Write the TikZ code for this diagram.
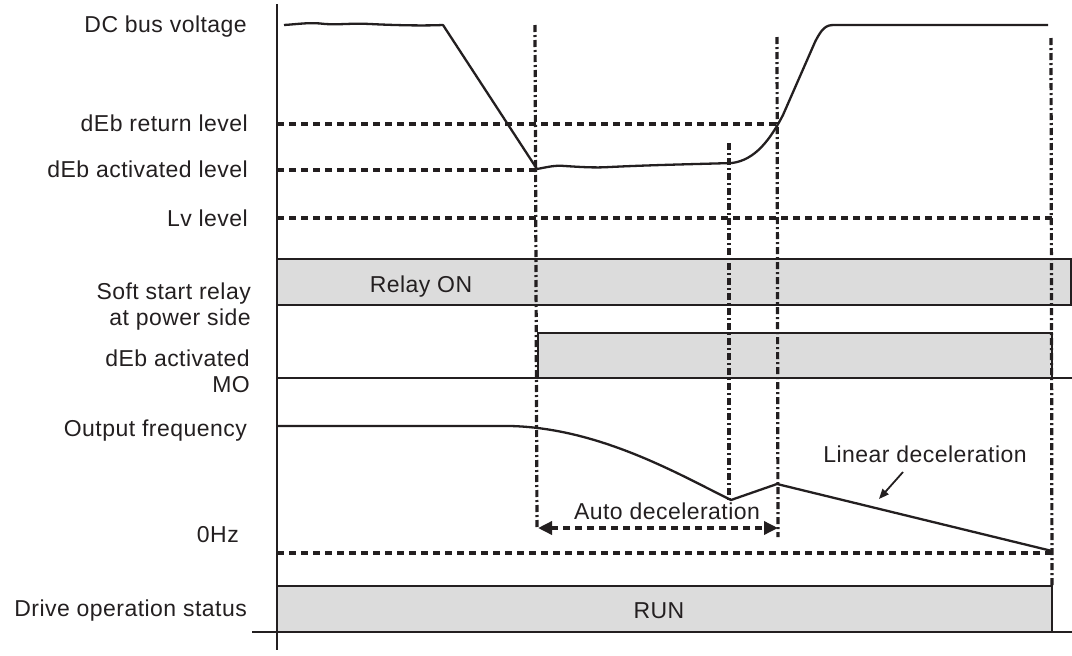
\documentclass[tikz,border=0pt]{standalone}
\usepackage{fontspec}
\setmainfont{Liberation Sans}[LetterSpace=2]
\usepackage{tikz}
\usetikzlibrary{positioning,arrows.meta,calc}
\definecolor{InkBlack}{HTML}{231F20}
\definecolor{BarGray}{HTML}{DCDCDC}

\begin{document}
\begin{tikzpicture}[
  x=1pt,y=-1pt,
  every node/.style={font=\fontsize{23}{25.5}\selectfont,text=InkBlack,inner sep=0pt},
  lbl/.style={anchor=base east,align=right},
  txt/.style={anchor=base},
  sig/.style={draw=InkBlack,line width=2.3pt,line join=round},
  axisline/.style={draw=InkBlack,line width=2.4pt},
  lvl/.style={draw=InkBlack,line width=3.4pt,dash pattern=on 7pt off 5pt},
  tline/.style={draw=InkBlack,line width=3.2pt,dash pattern=on 7pt off 3pt on 2pt off 3pt},
  bar/.style={draw=InkBlack,fill=BarGray,line width=2.4pt},
  span/.style={lvl,{Triangle[length=14pt,width=13pt]}-{Triangle[length=14pt,width=13pt]}},
  ptr/.style={draw=InkBlack,line width=1.8pt,-{Triangle[length=10pt,width=8pt]}}
]
  \useasboundingbox (0,0) rectangle (1072,656);

  \node[lbl] (dcbus) at (247,32) {DC bus voltage};
  \node[lbl] (retlvl) at (248,131) {dEb return level};
  \node[lbl] (actlvl) at (248,177) {dEb activated level};
  \node[lbl] (lvlvl) at (248,226) {Lv level};
  \node[lbl] (relay) at (251,325) {Soft start relay\\at power side};
  \node[lbl] (debmo) at (250,392) {dEb activated\\MO};
  \node[lbl] (outfreq) at (247,436) {Output frequency};
  \node[lbl] (zerohz) at (239,542) {0Hz};
  \node[lbl] (drvstat) at (247,616) {Drive operation status};

  \draw[bar] (277,259) rectangle (1071,305);
  \draw[bar] (538,333) rectangle (1052,378);
  \draw[bar] (277,586) rectangle (1052,632);
  \draw[axisline] (277,378) -- (1072,378);
  \draw[axisline] (252,632) -- (1072,632);
  \draw[axisline] (277,4) -- (277,650);

  \node[txt] (relayon) at (421,292) {Relay ON};
  \node[txt] (run) at (659,618) {RUN};

  \draw[lvl] (277,124) -- (777,124);
  \draw[lvl] (277,170) -- (537,170);
  \draw[lvl] (277,218) -- (1053,218);
  \draw[lvl] (277,553) -- (1052,553);

  \draw[tline] (535,25) -- (537,528);
  \draw[tline] (729,143) -- (729,500);
  \draw[tline] (777,37) -- (778,537);
  \draw[tline] (1051,38) -- (1052,585);

  \draw[sig] (284,25) .. controls (300,24) and (310,22) .. (325,24)
    .. controls (340,25) and (350,23) .. (370,24)
    .. controls (390,25) and (420,26) .. (443,25)
    -- (537,169)
    .. controls (548,167) and (555,165) .. (565,166)
    .. controls (580,167) and (595,168) .. (610,167)
    .. controls (650,165) and (700,164) .. (732,163)
    .. controls (755,160) and (770,140) .. (783,115)
    -- (815,42) .. controls (822,28) and (826,25) .. (834,25)
    -- (1048,25);

  \draw[sig] (277,426) -- (510,426)
    .. controls (600,428) and (680,475) .. (731,500)
    -- (777,484) -- (1052,551);

  \coordinate (adleft) at (538,528);
  \coordinate (adright) at (778,528);
  \draw[span] (adleft) -- (adright);
  \node[txt] (autodec) at (667,519) {Auto deceleration};

  \node[txt] (lindec) at (925,462) {Linear deceleration};
  \coordinate (lintail) at (903,472);
  \coordinate (lintip) at (879,499);
  \draw[ptr] (lintail) -- (lintip);
\end{tikzpicture}
\end{document}
